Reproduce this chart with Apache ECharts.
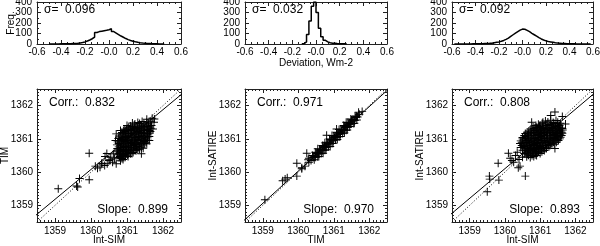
<!DOCTYPE html>
<html><head><meta charset="utf-8">
<script src="https://cdn.jsdelivr.net/npm/echarts@6/dist/echarts.min.js"></script>
<style>html,body{margin:0;padding:0;background:#fff}#c{width:600px;height:246px}</style>
</head><body><div id="c"></div>
<script>
// ---------------- DATA ----------------
const histBinWidth = 0.02;
const hist1Start = -0.50;
const hist1Counts = [1,1,1,1,2,2,2,3,3,4,5,7,10,14,20,28,38,50,65,110,118,122,126,130,136,145,118,104,90,76,64,52,42,34,27,21,16,12,9,7,5,4,3,2,2,1,1,1];
const hist2Start = -0.12;
const hist2Counts = [3,20,90,220,360,400,300,150,70,35,20,12,8,6,4,3,2,2,1];
const hist3Start = -0.58;
const hist3Counts = [1,1,1,1,1,1,1,2,2,2,3,3,4,5,6,8,12,16,20,26,34,44,56,72,88,104,118,132,142,140,130,118,102,88,74,60,48,38,30,24,20,16,12,9,7,5,4,3,3,2,2,1,1,1,1,1,1,1];

const sigmaLabels = ['0.096','0.032','0.092'];
const corrLabels = ['0.832','0.971','0.808'];
const slopeValues = [0.899, 0.970, 0.893];
const fitPivots = [[1360.5,1360.53],[1361.0,1361.0],[1360.5,1360.55]];
const scatterXNames = ['Int-SIM','TIM','Int-SIM'];
const scatterYNames = ['TIM','Int-SATIRE','Int-SATIRE'];
const histXTicks = [-0.6,-0.4,-0.2,0,0.2,0.4,0.6];
const histXTickLabels = ['-0.6','-0.4','-0.2','-0.0','0.2','0.4','0.6'];
const histYTicks = [0,100,200,300,400];
const histYTickLabels = ['0','100','200','300','400'];
const scatTicks = [1359,1360,1361,1362];
const scatTickLabels = ['1359','1360','1361','1362'];

const scatter1 = [
[1360.82,1360.34],[1360.89,1360.38],
[1360.78,1360.44],[1360.86,1360.41],[1360.95,1360.45],[1361.03,1360.47],
[1360.74,1360.52],[1360.83,1360.49],[1360.92,1360.53],[1361.01,1360.51],[1361.1,1360.55],
[1360.72,1360.61],[1360.8,1360.58],[1360.9,1360.62],[1360.99,1360.6],[1361.08,1360.63],[1361.17,1360.59],[1361.25,1360.64],
[1360.73,1360.71],[1360.82,1360.68],[1360.91,1360.72],[1361.0,1360.69],[1361.09,1360.73],[1361.18,1360.7],[1361.27,1360.72],[1361.35,1360.69],
[1360.72,1360.82],[1360.81,1360.79],[1360.9,1360.81],[1360.99,1360.78],[1361.08,1360.82],[1361.17,1360.8],[1361.26,1360.83],[1361.35,1360.79],[1361.44,1360.82],
[1360.74,1360.91],[1360.83,1360.88],[1360.92,1360.92],[1361.01,1360.9],[1361.1,1360.89],[1361.19,1360.93],[1361.28,1360.9],[1361.37,1360.88],[1361.46,1360.92],[1361.53,1360.9],
[1360.76,1361.01],[1360.85,1360.98],[1360.94,1361.02],[1361.03,1360.99],[1361.12,1361.03],[1361.21,1361.0],[1361.3,1360.98],[1361.39,1361.02],[1361.48,1361.0],[1361.57,1361.03],
[1360.78,1361.09],[1360.87,1361.12],[1360.96,1361.08],[1361.05,1361.11],[1361.14,1361.09],[1361.23,1361.12],[1361.32,1361.08],[1361.41,1361.11],[1361.5,1361.09],[1361.59,1361.12],
[1360.86,1361.19],[1360.95,1361.22],[1361.04,1361.18],[1361.13,1361.21],[1361.22,1361.2],[1361.31,1361.22],[1361.4,1361.19],[1361.49,1361.21],[1361.58,1361.18],[1361.65,1361.22],
[1360.94,1361.29],[1361.03,1361.32],[1361.12,1361.28],[1361.21,1361.31],[1361.3,1361.29],[1361.39,1361.32],[1361.48,1361.3],[1361.57,1361.28],[1361.66,1361.32],
[1361.1,1361.39],[1361.2,1361.42],[1361.3,1361.38],[1361.4,1361.41],[1361.5,1361.39],[1361.6,1361.42],[1361.68,1361.4],
[1361.3,1361.49],[1361.42,1361.52],[1361.55,1361.5],[1361.66,1361.53],
[1361.55,1361.59],[1361.7,1361.62],
[1360.8,1360.47],[1360.9,1360.5],
[1360.78,1360.55],[1360.87,1360.57],[1360.96,1360.56],[1361.05,1360.58],[1361.14,1360.56],
[1360.76,1360.66],[1360.86,1360.65],[1360.95,1360.67],[1361.04,1360.65],[1361.13,1360.67],[1361.22,1360.66],[1361.3,1360.67],
[1360.77,1360.76],[1360.86,1360.74],[1360.95,1360.77],[1361.04,1360.75],[1361.13,1360.76],[1361.22,1360.75],[1361.31,1360.77],[1361.4,1360.75],
[1360.77,1360.86],[1360.86,1360.84],[1360.95,1360.87],[1361.04,1360.85],[1361.13,1360.86],[1361.22,1360.84],[1361.31,1360.87],[1361.4,1360.85],[1361.49,1360.86],
[1360.79,1360.95],[1360.88,1360.97],[1360.97,1360.95],[1361.06,1360.96],[1361.15,1360.94],[1361.24,1360.97],[1361.33,1360.95],[1361.42,1360.96],[1361.51,1360.97],[1361.58,1360.96],
[1360.81,1361.06],[1360.9,1361.04],[1360.99,1361.07],[1361.08,1361.05],[1361.17,1361.06],[1361.26,1361.04],[1361.35,1361.07],[1361.44,1361.05],[1361.53,1361.06],[1361.62,1361.07],
[1360.83,1361.15],[1360.92,1361.17],[1361.01,1361.15],[1361.1,1361.16],[1361.19,1361.14],[1361.28,1361.17],[1361.37,1361.15],[1361.46,1361.16],[1361.55,1361.15],[1361.63,1361.17],
[1360.9,1361.25],[1360.99,1361.27],[1361.08,1361.25],[1361.17,1361.26],[1361.26,1361.24],[1361.35,1361.27],[1361.44,1361.25],[1361.53,1361.26],[1361.62,1361.25],
[1361.05,1361.35],[1361.15,1361.37],[1361.25,1361.34],[1361.35,1361.36],[1361.45,1361.35],[1361.55,1361.37],[1361.64,1361.36],
[1361.22,1361.45],[1361.35,1361.46],[1361.47,1361.45],[1361.6,1361.47],
[1360.68,1360.95],[1360.7,1361.15],[1360.82,1361.25],[1361.0,1361.4],[1361.15,1361.48],[1361.45,1360.72],[1361.55,1360.85],[1361.62,1360.95],[1361.72,1361.3],[1361.75,1361.5],[1361.76,1361.6],
[1360.65,1360.4],[1360.6,1360.3],[1360.55,1360.45],[1360.5,1360.35],[1360.45,1360.25],[1360.38,1360.2],[1360.3,1360.25],[1360.25,1360.15],[1360.18,1360.12],[1360.12,1360.18],[1360.7,1360.25],[1360.62,1360.55],[1360.44,1360.56],[1360.39,1360.47],[1360.53,1360.37],
[1359.09,1359.5],[1359.6,1359.58],[1359.63,1359.55],[1359.68,1359.81],[1359.95,1359.77],[1359.95,1360.57],[1360.3,1360.27],[1361.4,1360.55]
];

const scatter2 = [
[1360.36,1360.35],[1360.42,1360.44],[1360.47,1360.46],[1360.52,1360.55],[1360.57,1360.56],[1360.62,1360.64],[1360.67,1360.66],[1360.72,1360.74],[1360.77,1360.76],[1360.82,1360.84],[1360.87,1360.86],[1360.92,1360.94],[1360.97,1360.96],[1361.02,1361.04],[1361.07,1361.06],[1361.12,1361.14],[1361.17,1361.16],[1361.22,1361.24],[1361.27,1361.26],[1361.32,1361.34],[1361.37,1361.36],[1361.42,1361.44],[1361.47,1361.46],[1361.52,1361.54],[1361.57,1361.56],[1361.62,1361.64],[1361.67,1361.66],
[1360.4,1360.5],[1360.5,1360.57],[1360.6,1360.69],[1360.7,1360.78],[1360.8,1360.9],[1360.9,1360.98],[1361.0,1361.09],[1361.1,1361.18],[1361.2,1361.29],[1361.3,1361.38],[1361.4,1361.49],[1361.5,1361.57],[1361.6,1361.68],
[1360.45,1360.37],[1360.55,1360.46],[1360.65,1360.57],[1360.75,1360.66],[1360.85,1360.77],[1360.95,1360.86],[1361.05,1360.97],[1361.15,1361.06],[1361.25,1361.17],[1361.35,1361.26],[1361.45,1361.37],[1361.55,1361.46],[1361.65,1361.57],
[1360.44,1360.48],[1360.54,1360.58],[1360.64,1360.68],[1360.74,1360.78],[1360.84,1360.88],[1360.94,1360.98],[1361.04,1361.08],[1361.14,1361.18],[1361.24,1361.28],[1361.34,1361.38],[1361.44,1361.48],[1361.54,1361.58],[1361.64,1361.68],
[1360.49,1360.45],[1360.59,1360.55],[1360.69,1360.65],[1360.79,1360.75],[1360.89,1360.85],[1360.99,1360.95],[1361.09,1361.05],[1361.19,1361.15],[1361.29,1361.25],[1361.39,1361.35],[1361.49,1361.45],[1361.59,1361.55],
[1360.48,1360.6],[1360.68,1360.8],[1360.88,1361.0],[1361.08,1361.2],[1361.28,1361.4],[1361.48,1361.6],
[1360.58,1360.47],[1360.78,1360.67],[1360.98,1360.87],[1361.18,1361.07],[1361.38,1361.27],[1361.58,1361.47],
[1360.55,1360.7],[1360.75,1360.88],[1360.95,1361.1],[1361.15,1361.28],[1361.35,1361.5],
[1360.7,1360.57],[1360.9,1360.77],[1361.1,1360.98],[1361.3,1361.18],
[1360.28,1360.37],[1360.3,1360.3],[1360.24,1360.57],[1360.1,1360.13],[1360.19,1360.18],[1359.96,1360.27],[1359.96,1359.88],[1359.56,1359.74],[1359.63,1359.79],[1359.69,1359.83],[1359.06,1359.17],[1360.8,1361.11],[1361.08,1361.3],[1361.72,1361.74],[1361.8,1361.82],[1361.7,1361.8],[1360.3,1360.42],[1360.1,1360.1]
];

const scatter3 = [
[1360.62,1360.46],[1360.72,1360.44],[1360.82,1360.47],[1360.9,1360.5],
[1360.55,1360.56],[1360.64,1360.54],[1360.73,1360.57],[1360.82,1360.55],[1360.91,1360.58],[1361.0,1360.56],
[1360.5,1360.66],[1360.59,1360.64],[1360.68,1360.67],[1360.77,1360.65],[1360.86,1360.68],[1360.95,1360.64],[1361.04,1360.67],[1361.12,1360.65],
[1360.45,1360.74],[1360.54,1360.77],[1360.63,1360.75],[1360.72,1360.73],[1360.81,1360.76],[1360.9,1360.74],[1360.99,1360.77],[1361.08,1360.75],[1361.17,1360.73],[1361.25,1360.76],
[1360.43,1360.86],[1360.52,1360.84],[1360.61,1360.87],[1360.7,1360.85],[1360.79,1360.83],[1360.88,1360.86],[1360.97,1360.84],[1361.06,1360.87],[1361.15,1360.85],[1361.24,1360.83],[1361.33,1360.86],[1361.4,1360.84],
[1360.45,1360.94],[1360.54,1360.97],[1360.63,1360.95],[1360.72,1360.93],[1360.81,1360.96],[1360.9,1360.94],[1360.99,1360.97],[1361.08,1360.95],[1361.17,1360.93],[1361.26,1360.96],[1361.35,1360.94],[1361.44,1360.97],[1361.52,1360.95],
[1360.5,1361.04],[1360.59,1361.07],[1360.68,1361.05],[1360.77,1361.03],[1360.86,1361.06],[1360.95,1361.04],[1361.04,1361.07],[1361.13,1361.05],[1361.22,1361.03],[1361.31,1361.06],[1361.4,1361.04],[1361.49,1361.07],[1361.58,1361.05],
[1360.58,1361.16],[1360.67,1361.14],[1360.76,1361.17],[1360.85,1361.15],[1360.94,1361.13],[1361.03,1361.16],[1361.12,1361.14],[1361.21,1361.17],[1361.3,1361.15],[1361.39,1361.13],[1361.48,1361.16],[1361.57,1361.14],[1361.63,1361.17],
[1360.68,1361.24],[1360.77,1361.27],[1360.86,1361.25],[1360.95,1361.23],[1361.04,1361.26],[1361.13,1361.24],[1361.22,1361.27],[1361.31,1361.25],[1361.4,1361.23],[1361.49,1361.26],[1361.58,1361.24],[1361.64,1361.27],
[1360.8,1361.36],[1360.89,1361.34],[1360.98,1361.37],[1361.07,1361.35],[1361.16,1361.33],[1361.25,1361.36],[1361.34,1361.34],[1361.43,1361.37],[1361.52,1361.35],[1361.6,1361.33],
[1360.95,1361.44],[1361.06,1361.47],[1361.17,1361.45],[1361.28,1361.43],[1361.39,1361.46],[1361.5,1361.44],[1361.58,1361.47],
[1361.15,1361.54],[1361.3,1361.56],[1361.45,1361.55],
[1360.67,1360.51],[1360.77,1360.5],[1360.86,1360.52],
[1360.6,1360.6],[1360.69,1360.61],[1360.78,1360.6],[1360.87,1360.62],[1360.96,1360.6],[1361.05,1360.61],
[1360.55,1360.7],[1360.64,1360.71],[1360.73,1360.69],[1360.82,1360.71],[1360.91,1360.7],[1361.0,1360.72],[1361.09,1360.7],[1361.18,1360.71],
[1360.48,1360.8],[1360.57,1360.81],[1360.66,1360.79],[1360.75,1360.8],[1360.84,1360.82],[1360.93,1360.8],[1361.02,1360.81],[1361.11,1360.79],[1361.2,1360.8],[1361.29,1360.81],
[1360.48,1360.9],[1360.57,1360.91],[1360.66,1360.89],[1360.75,1360.9],[1360.84,1360.91],[1360.93,1360.89],[1361.02,1360.9],[1361.11,1360.91],[1361.2,1360.89],[1361.29,1360.9],[1361.38,1360.91],[1361.46,1360.9],
[1360.5,1361.0],[1360.59,1361.01],[1360.68,1360.99],[1360.77,1361.0],[1360.86,1361.01],[1360.95,1360.99],[1361.04,1361.0],[1361.13,1361.01],[1361.22,1360.99],[1361.31,1361.0],[1361.4,1361.01],[1361.49,1360.99],[1361.56,1361.0],
[1360.55,1361.1],[1360.64,1361.11],[1360.73,1361.09],[1360.82,1361.1],[1360.91,1361.11],[1361.0,1361.09],[1361.09,1361.1],[1361.18,1361.11],[1361.27,1361.09],[1361.36,1361.1],[1361.45,1361.11],[1361.54,1361.09],[1361.61,1361.1],
[1360.63,1361.2],[1360.72,1361.21],[1360.81,1361.19],[1360.9,1361.2],[1360.99,1361.21],[1361.08,1361.19],[1361.17,1361.2],[1361.26,1361.21],[1361.35,1361.19],[1361.44,1361.2],[1361.53,1361.21],[1361.61,1361.2],
[1360.74,1361.3],[1360.83,1361.31],[1360.92,1361.29],[1361.01,1361.3],[1361.1,1361.31],[1361.19,1361.29],[1361.28,1361.3],[1361.37,1361.31],[1361.46,1361.29],[1361.55,1361.3],[1361.63,1361.31],
[1360.88,1361.4],[1361.0,1361.41],[1361.11,1361.39],[1361.22,1361.4],[1361.33,1361.41],[1361.44,1361.39],[1361.55,1361.4],
[1361.08,1361.5],[1361.22,1361.51],[1361.37,1361.49],[1361.5,1361.5],
[1360.76,1361.5],[1361.42,1361.81],[1361.63,1361.67],[1361.72,1361.45],[1361.42,1360.71],[1361.3,1361.7],
[1359.5,1359.41],[1359.56,1359.88],[1359.57,1359.79],[1359.83,1359.76],[1359.81,1360.27],[1360.1,1360.57],[1360.2,1360.35],[1360.25,1360.3],[1360.15,1360.42],[1360.38,1360.13],[1360.43,1360.18],[1360.58,1359.88],[1360.3,1360.5],[1360.35,1360.6],[1360.4,1360.38],[1360.5,1360.45]
];

const histStarts = [hist1Start, hist2Start, hist3Start];
const histCounts = [hist1Counts, hist2Counts, hist3Counts];
const scatters = [scatter1, scatter2, scatter3];

// ---------------- LAYOUT ----------------
const FONT = "'Liberation Sans', Arial, Helvetica, sans-serif";
const panelLeft = [37, 245, 452];
const panelWidth = [144, 142, 141];
const histTop = 2, histHeight = 42;
const scatTop = 89, scatHeight = 133;
const scatMin = 1358.5, scatMax = 1362.5;
const AXC = '#222';

const grids = [], xAxes = [], yAxes = [], series = [], graphics = [];

function steps(min, max, step) {
  const a = []; const n = Math.round((max - min) / step);
  for (let i = 0; i <= n; i++) a.push(+(min + i * step).toFixed(6));
  return a;
}

function addSide(dim, gi, pos, min, max, majors, minorStep, opts) {
  const arr = dim === 'x' ? xAxes : yAxes;
  const base = { gridIndex: gi, type: 'value', position: pos, min: min, max: max, splitLine: { show: false }, axisPointer: { show: false } };
  arr.push(Object.assign({}, base, {
    axisLine: { show: false, onZero: false },
    axisLabel: { show: false },
    axisTick: { show: true, inside: true, length: 2, customValues: steps(min, max, minorStep), lineStyle: { color: AXC, width: 1 } }
  }));
  const idx = arr.length;
  const ax = Object.assign({}, base, {
    axisLine: { show: true, onZero: false, lineStyle: { color: AXC, width: 1 } },
    axisTick: { show: true, inside: true, length: 4, customValues: majors, lineStyle: { color: AXC, width: 1 } },
    axisLabel: { show: false }
  });
  if (opts && opts.labels) {
    ax.axisLabel = {
      show: true, customValues: majors,
      formatter: function (v) { const k = majors.findIndex(m => Math.abs(m - v) < 1e-6); return k >= 0 ? opts.labels[k] : ''; },
      fontSize: 10, fontFamily: FONT, color: '#000', margin: opts.margin,
      hideOverlap: false, showMinLabel: true, showMaxLabel: true
    };
  }
  if (opts && opts.name) {
    ax.name = opts.name; ax.nameLocation = 'middle'; ax.nameGap = opts.nameGap; ax.nameMoveOverlap = false;
    ax.nameTextStyle = { fontSize: 10, fontFamily: FONT, color: '#000' };
  }
  arr.push(ax);
  return idx;
}

for (let p = 0; p < 3; p++) {
  // ---- histogram panel ----
  let gi = grids.length;
  grids.push({ left: panelLeft[p], top: histTop, width: panelWidth[p], height: histHeight, show: false, outerBoundsMode: 'none' });
  const hx = addSide('x', gi, 'bottom', -0.6, 0.6, histXTicks, 0.05, { labels: histXTickLabels, margin: 3, name: p === 1 ? 'Deviation, Wm-2' : '', nameGap: 14 });
  addSide('x', gi, 'top', -0.6, 0.6, histXTicks, 0.05, {});
  const hy = addSide('y', gi, 'left', 0, 400, histYTicks, 50, { labels: histYTickLabels, margin: 5, name: p === 0 ? 'Freq.' : '', nameGap: 21 });
  addSide('y', gi, 'right', 0, 400, histYTicks, 50, {});
  const counts = histCounts[p];
  const hd = counts.map((c, i) => [histStarts[p] + i * histBinWidth, c]);
  hd.push([histStarts[p] + counts.length * histBinWidth, counts[counts.length - 1]]);
  series.push({ type: 'line', xAxisIndex: hx, yAxisIndex: hy, data: hd, step: 'end', symbol: 'none', silent: true,
    lineStyle: { color: '#000', width: 1.5 } });
  graphics.push({ type: 'text', x: panelLeft[p] + 7, y: 10, style: { text: 'σ=  ' + sigmaLabels[p], fill: '#000', font: '12px ' + FONT, verticalAlign: 'middle', align: 'left' } });

  // ---- scatter panel ----
  gi = grids.length;
  grids.push({ left: panelLeft[p], top: scatTop, width: panelWidth[p], height: scatHeight, show: false, outerBoundsMode: 'none' });
  const sx = addSide('x', gi, 'bottom', scatMin, scatMax, scatTicks, 0.1, { labels: scatTickLabels, margin: 4, name: scatterXNames[p], nameGap: 13 });
  addSide('x', gi, 'top', scatMin, scatMax, scatTicks, 0.1, {});
  const sy = addSide('y', gi, 'left', scatMin, scatMax, scatTicks, 0.1, { labels: scatTickLabels, margin: 4, name: scatterYNames[p], nameGap: 27 });
  addSide('y', gi, 'right', scatMin, scatMax, scatTicks, 0.1, {});
  series.push({ type: 'scatter', xAxisIndex: sx, yAxisIndex: sy, data: scatters[p], silent: true,
    symbol: 'path://M0,4.4h10v1.2h-10z M4.4,0h1.2v10h-1.2z', symbolSize: 8, itemStyle: { color: '#000', opacity: 1 } });
  const piv = fitPivots[p], s = slopeValues[p];
  series.push({ type: 'line', xAxisIndex: sx, yAxisIndex: sy, symbol: 'none', silent: true, clip: true,
    data: [[scatMin - 1, piv[1] + s * (scatMin - 1 - piv[0])], [scatMax + 1, piv[1] + s * (scatMax + 1 - piv[0])]],
    lineStyle: { color: '#000', width: 1 } });
  series.push({ type: 'line', xAxisIndex: sx, yAxisIndex: sy, symbol: 'none', silent: true, clip: true,
    data: [[scatMin, scatMin], [scatMax, scatMax]],
    lineStyle: { color: '#000', width: 1, type: [1, 2] } });
  graphics.push({ type: 'text', x: panelLeft[p] + 12, y: 103, style: { text: 'Corr.:  ' + corrLabels[p], fill: '#000', font: '12px ' + FONT, verticalAlign: 'middle', align: 'left' } });
  graphics.push({ type: 'text', x: panelLeft[p] + panelWidth[p] - 13, y: 210, style: { text: 'Slope:  ' + slopeValues[p].toFixed(3), fill: '#000', font: '12px ' + FONT, verticalAlign: 'middle', align: 'right' } });
}

const chart = echarts.init(document.getElementById('c'), null, { renderer: 'canvas' });
chart.setOption({
  animation: false,
  backgroundColor: '#fff',
  grid: grids, xAxis: xAxes, yAxis: yAxes, series: series, graphic: graphics
});
</script></body></html>
